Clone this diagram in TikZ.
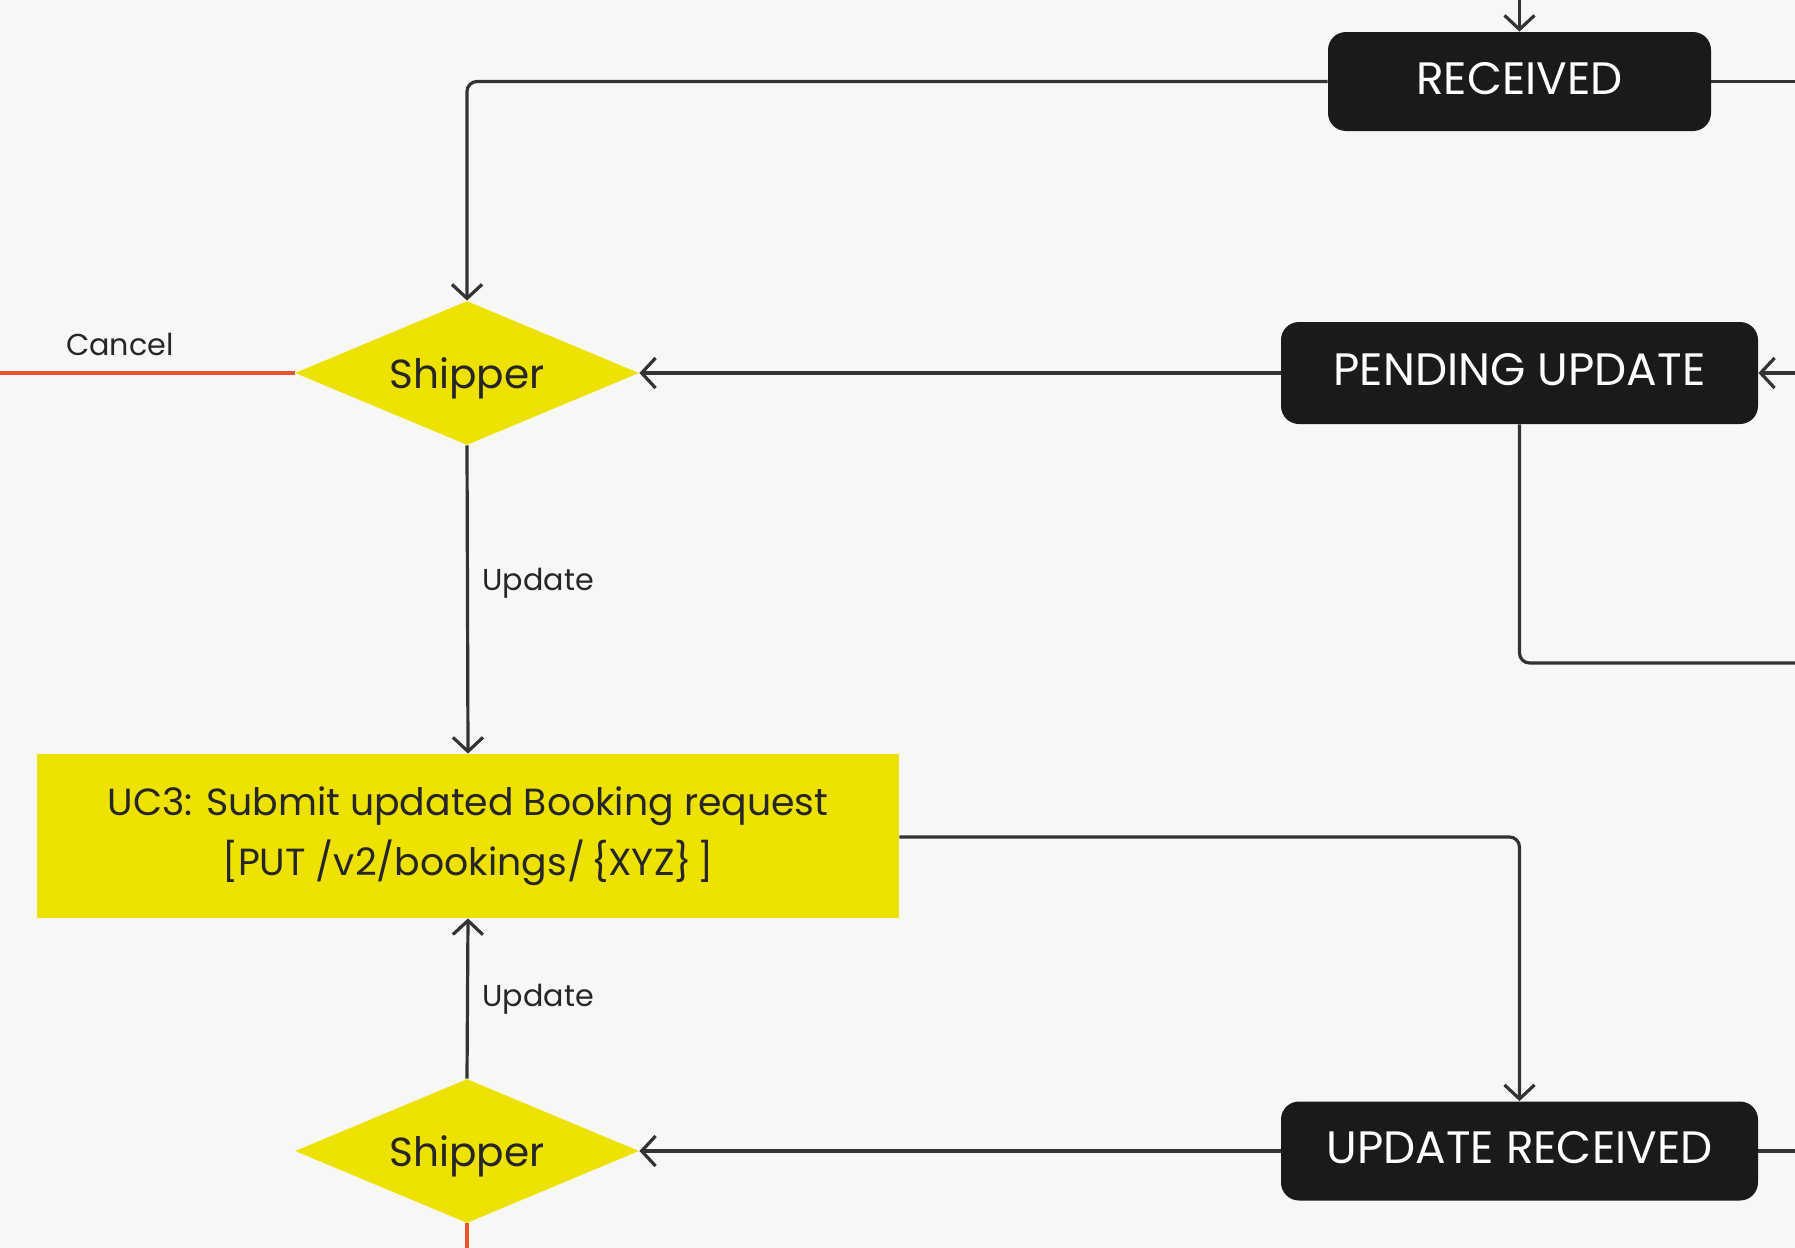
\documentclass[tikz,border=0pt]{standalone}
\usepackage{fontspec}
\setmainfont{Poppins}
\usetikzlibrary{arrows.meta,shapes.geometric}
\definecolor{bg}{RGB}{247,247,247}
\definecolor{ink}{RGB}{51,51,51}
\definecolor{boxblack}{RGB}{26,26,26}
\definecolor{ylw}{RGB}{238,227,0}
\definecolor{redline}{RGB}{232,82,44}
\tikzset{
  state/.style={fill=boxblack, draw=none, rounded corners=9pt, text=white,
    font=\fontsize{22.7}{27}\selectfont, inner sep=0pt, text height=15.9pt, text depth=3pt},
  decision/.style={diamond, fill=ylw, draw=none, inner sep=0pt,
    minimum width=172pt, minimum height=72pt},
  dtext/.style={font=\fontsize{20.3}{24}\selectfont, text=black!85, inner sep=0pt,
    text height=15pt, text depth=0pt},
  action/.style={rectangle, fill=ylw, draw=none, inner sep=0pt,
    minimum width=431pt, minimum height=82pt, align=center, text=black!85,
    font=\fontsize{18.9}{30}\selectfont},
  conn/.style={draw=ink, line width=1.6pt, rounded corners=5pt},
  arr/.style={conn, -{Straight Barb[length=7pt,width=15pt,line width=1.6pt]}},
  cancelline/.style={draw=redline, line width=1.6pt},
  lbl/.style={font=\fontsize{15.1}{18}\selectfont, text=black!85, inner sep=0pt}
}
\begin{document}
\begin{tikzpicture}[x=0.5pt,y=-0.5pt]
\fill[bg] (0,0) rectangle (1795,1248);
\useasboundingbox (0,0) rectangle (1795,1248);

\node[state, minimum width=191.5pt, minimum height=49.5pt] (rec) at (1519.5,81.5) {RECEIVED};
\node[state, minimum width=238.5pt, minimum height=51pt] (pu) at (1519.5,373) {PENDING UPDATE};
\node[state, minimum width=238.5pt, minimum height=49.5pt] (ur) at (1519.5,1151) {UPDATE RECEIVED};

\node[decision] (s1) at (467,373) {};
\node[dtext] (s1t) at (s1.center) {Shipper};
\node[decision] (s2) at (467,1151) {};
\node[dtext] (s2t) at (s2.center) {Shipper};

\node[action] (uc3) at (468,836) {UC3: Submit updated Booking request\\{}{[}PUT /v2/bookings/\kern3pt\{XYZ\}\kern3pt{]}};

\coordinate (topin) at (1519.5,0);
\coordinate (recout) at (1795,81.5);
\coordinate (puin) at (1795,373);
\coordinate (puout) at (1795,663);
\coordinate (urout) at (1795,1151);
\coordinate (cancelend) at (0,373);
\coordinate (s2down) at (467,1248);

\draw[arr] (topin) -- (rec.north);
\draw[conn] (rec.east) -- (recout);
\draw[arr] (rec.west) -| (s1.north);
\draw[arr] (puin) -- (pu.east);
\draw[arr] (pu.west) -- (s1.east);
\draw[conn] (pu.south) |- (puout);
\draw[arr] (s1.south) -- (uc3.north);
\draw[arr] (s2.north) -- (uc3.south);
\draw[arr] (uc3.east |- 0,837) -| (ur.north);
\draw[arr] (ur.west) -- (s2.east);
\draw[conn] (ur.east) -- (urout);
\draw[cancelline] (s1.west) -- (cancelend);
\draw[cancelline] (s2.south) -- (s2down);
\node[lbl, anchor=west] (upd1) at (482,583) {Update};
\node[lbl, anchor=west] (upd2) at (482,999) {Update};
\node[lbl] (cancel) at (120,344) {Cancel};
\end{tikzpicture}
\end{document}
